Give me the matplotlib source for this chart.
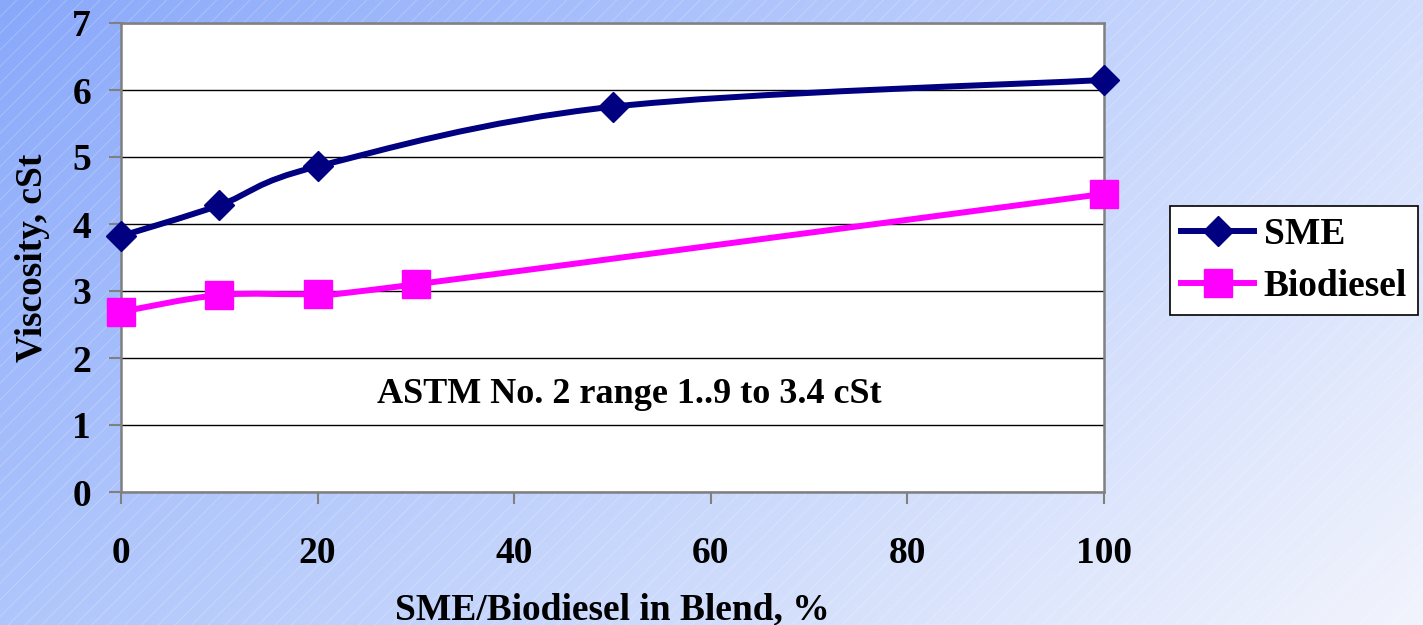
import numpy as np
import matplotlib

matplotlib.use("Agg")
import matplotlib.pyplot as plt
from matplotlib.path import Path
from matplotlib.patches import PathPatch, Rectangle
from matplotlib.lines import Line2D

# data
blend_sme = [0, 10, 20, 50, 100]
visc_sme = [3.82, 4.28, 4.86, 5.75, 6.15]
blend_bio = [0, 10, 20, 30, 100]
visc_bio = [2.69, 2.94, 2.96, 3.10, 4.45]
x_ticks = [0, 20, 40, 60, 80, 100]
y_ticks = [0, 1, 2, 3, 4, 5, 6, 7]

NAVY = "#000080"
MAGENTA = "#FF00FF"
FS = 27
plt.rcParams["font.family"] = ["Liberation Serif", "DejaVu Serif"]
plt.rcParams["font.weight"] = "bold"


def smooth_path(xs, ys):
    # Excel-style smoothed line: Catmull-Rom segments as cubic Beziers
    p = np.column_stack([xs, ys]).astype(float)
    ext = np.vstack([p[0], p, p[-1]])
    verts = [p[0]]
    codes = [Path.MOVETO]
    for i in range(1, len(ext) - 2):
        c1 = ext[i] + (ext[i + 1] - ext[i - 1]) / 6
        c2 = ext[i + 1] - (ext[i + 2] - ext[i]) / 6
        verts += [c1, c2, ext[i + 1]]
        codes += [Path.CURVE4] * 3
    return Path(verts, codes)


fig = plt.figure(figsize=(14.23, 6.25), dpi=100)

# gradient background
bg = fig.add_axes([0, 0, 1, 1], zorder=-10)
bg.axis("off")
gx, gy = np.meshgrid(np.linspace(0, 1, 300), np.linspace(1, 0, 150))
tl = np.array([137, 168, 250]) / 255
tr = np.array([208, 221, 253]) / 255
bl = np.array([175, 198, 252]) / 255
br = np.array([242, 244, 252]) / 255
img = ((1 - gx)[..., None] * (gy[..., None] * tl + (1 - gy)[..., None] * bl)
       + gx[..., None] * (gy[..., None] * tr + (1 - gy)[..., None] * br))
bg.imshow(img, extent=[0, 1, 0, 1], aspect="auto")
bg.set_xlim(0, 1)
bg.set_ylim(0, 1)
plt.rcParams["hatch.linewidth"] = 0.5
bg.add_patch(Rectangle((0, 0), 1, 1, fill=False, hatch="//",
                       edgecolor=(1, 1, 1, 0.3), lw=0))

ax = fig.add_axes([121 / 1423, 133 / 625, 983 / 1423, 469 / 625])
ax.set_facecolor("white")
ax.set_xlim(0, 100)
ax.set_ylim(0, 7)
ax.set_xticks(x_ticks)
ax.set_yticks(y_ticks)
ax.grid(axis="y", color="black", lw=1)
ax.set_axisbelow(True)
for s in ax.spines.values():
    s.set_color("#808080")
    s.set_linewidth(1.8)
ax.tick_params(axis="both", direction="out", length=8.6, width=1.5,
               color="#808080", labelsize=FS)
ax.tick_params(axis="x", pad=23)
ax.tick_params(axis="y", pad=13)

ax.add_patch(PathPatch(smooth_path(blend_sme, visc_sme), fill=False,
                       edgecolor=NAVY, lw=4.3, zorder=3))
ax.add_patch(PathPatch(smooth_path(blend_bio, visc_bio), fill=False,
                       edgecolor=MAGENTA, lw=4.3, zorder=3))
ax.plot(blend_sme, visc_sme, ls="none", marker="D", ms=15, color=NAVY,
        zorder=4, clip_on=False)
ax.plot(blend_bio, visc_bio, ls="none", marker="s", ms=20, color=MAGENTA,
        zorder=4, clip_on=False)

ax.text(51.7, 1.46, "ASTM No. 2 range 1..9 to 3.4 cSt", fontsize=FS - 1,
        fontweight="bold", ha="center", va="center")

ax.set_ylabel("Viscosity, cSt", fontsize=FS, fontweight="bold")
ax.yaxis.set_label_coords(-0.072, 0.5)
ax.set_xlabel("SME/Biodiesel in Blend, %", fontsize=FS, fontweight="bold")
ax.xaxis.set_label_coords(0.5, -0.272)
ax.xaxis.label.set_va("baseline")

handles = [
    Line2D([], [], color=NAVY, lw=4.3, marker="D", ms=15),
    Line2D([], [], color=MAGENTA, lw=4.3, marker="s", ms=20),
]
leg = fig.legend(handles, ["SME", "Biodiesel"], loc="center left",
                 bbox_to_anchor=(1170 / 1423, 1 - 260.5 / 625), fontsize=FS,
                 frameon=True, fancybox=False, framealpha=1, edgecolor="black",
                 handlelength=1.95, handletextpad=0.25, borderpad=0.3,
                 labelspacing=0.45, borderaxespad=0)
leg.get_frame().set_linewidth(1.2)

fig.savefig("out.png", dpi=100)
